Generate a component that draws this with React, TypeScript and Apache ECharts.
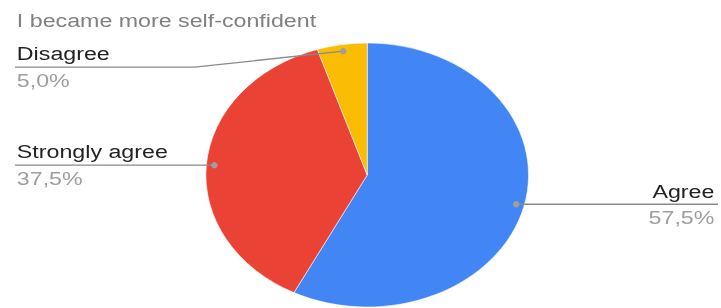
import React, { useEffect, useRef } from 'react';
import * as echarts from 'echarts';

const titleText = 'I became more self-confident';
const categories = ['Agree', 'Strongly agree', 'Disagree'];
const values = [57.5, 37.5, 5.0];
const colors = ['#4285F4', '#EA4335', '#FBBC04'];

const W = 590;
const H = 308;
const SCALE_X = 721 / W;
const CX = 300.5;
const CY = 175;
const R = 132;
const LEFT_X = 12.3;
const RIGHT_X = 587.6;
const BEND = 147;
const FONT = '"Liberation Sans", Arial, sans-serif';
const labelShiftY: Record<string, number> = { Disagree: 16 };

export default function App() {
  const ref = useRef<HTMLDivElement>(null);
  useEffect(() => {
    const chart = echarts.init(ref.current!, null, { renderer: 'svg' });
    const total = values.reduce((a, b) => a + b, 0);
    let acc = 0;
    const dots = values.map((v) => {
      const m = ((acc + v / 2) / total) * 2 * Math.PI;
      acc += v;
      return [CX + 0.95 * R * Math.sin(m), CY - 0.95 * R * Math.cos(m)];
    });
    const guides = dots.map(([dx, dy], i) => {
      const isLeft = dx < CX;
      const lineY = dy + (labelShiftY[categories[i]] || 0);
      const endX = isLeft ? LEFT_X : RIGHT_X;
      const bendX = isLeft ? LEFT_X + BEND : RIGHT_X - BEND;
      return { isLeft, lineY, endX, points: [[dx, dy], [bendX, lineY], [endX, lineY]] };
    });
    chart.setOption({
      animation: false,
      title: {
        text: titleText,
        left: LEFT_X + 1.5,
        top: 11,
        padding: 0,
        textStyle: { fontFamily: FONT, fontSize: 19, fontWeight: 'normal', color: '#808080' },
      },
      graphic: [
        ...guides.map((g) => ({
          type: 'polyline',
          shape: { points: g.points },
          style: { stroke: '#8a8a8a', lineWidth: 1.3, fill: null },
          z: 90,
          silent: true,
        })),
        ...dots.map(([x, y]) => ({
          type: 'ellipse',
          shape: { cx: x, cy: y, rx: 3.2 / SCALE_X, ry: 3.2 },
          style: { fill: '#9e9e9e' },
          z: 100,
          silent: true,
        })),
      ],
      series: [
        {
          type: 'pie',
          center: [CX, CY],
          radius: R,
          startAngle: 90,
          clockwise: true,
          avoidLabelOverlap: false,
          silent: true,
          data: categories.map((c, i) => ({ name: c, value: values[i], itemStyle: { color: colors[i] } })),
          itemStyle: { borderColor: '#ffffff', borderWidth: 0.5 },
          label: {
            show: true,
            formatter: (p: any) => `{n|${p.name}}\n{p|${p.percent.toFixed(1).replace('.', ',')}%}`,
            rich: {
              n: { fontFamily: FONT, fontSize: 19, color: '#222222', lineHeight: 27 },
              p: { fontFamily: FONT, fontSize: 19, color: '#9e9e9e', lineHeight: 27 },
            },
          },
          labelLine: { show: false },
          labelLayout: (params: any) => {
            const g = guides[params.dataIndex];
            return {
              x: g.isLeft ? g.endX + 1.5 : g.endX - 3,
              y: g.lineY,
              align: g.isLeft ? 'left' : 'right',
              verticalAlign: 'middle',
            };
          },
        },
      ],
    });
    return () => chart.dispose();
  }, []);
  return (
    <div
      ref={ref}
      style={{
        position: 'fixed',
        left: 0,
        top: 0,
        width: W,
        height: H,
        transform: `scaleX(${SCALE_X})`,
        transformOrigin: '0 0',
      }}
    />
  );
}
